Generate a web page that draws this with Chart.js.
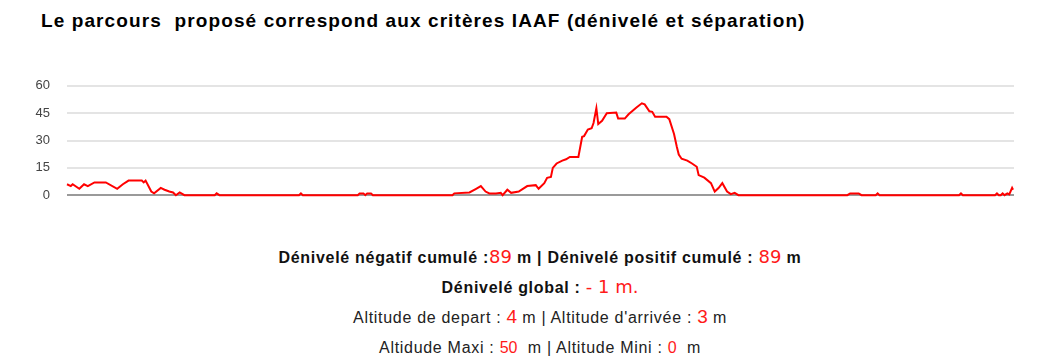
<!DOCTYPE html>
<html lang="fr">
<head>
<meta charset="utf-8">
<title>Profil altimétrique</title>
<script src="https://cdn.jsdelivr.net/npm/chart.js@4"></script>
<style>
  body { margin: 0; background: #fff; font-family: "Liberation Sans", Arial, sans-serif; color: #111; }
  #title { position: absolute; left: 41px; top: 10px; font-size: 19px; letter-spacing: 1.1px; font-weight: bold; white-space: pre; color: #000; }
  #profile { position: absolute; left: 0; top: 61px; }
  #stats { position: absolute; left: 40px; top: 243px; width: 1000px; text-align: center; font-size: 16px; letter-spacing: 0.7px; line-height: 30px; color: #222; }
  #stats b { color: #111; }
  #stats span { line-height: 1; letter-spacing: 0; }
  .big { color: #ff1a1a; font-family: "DejaVu Sans", sans-serif; font-size: 18px; font-weight: normal; }
  .num { color: #ff1a1a; font-size: 19px; }
  .small { color: #ff1a1a; font-size: 16px; }
</style>
</head>
<body>
<div id="title">Le parcours  proposé correspond aux critères IAAF (dénivelé et séparation)</div>
<canvas id="profile" width="1041" height="159"></canvas>
<div id="stats">
  <div><b>Dénivelé négatif cumulé :</b><span class="big">89</span><b> m | Dénivelé positif cumulé : </b><span class="big">89</span><b> m</b></div>
  <div><b>Dénivelé global : </b><span class="big">- 1 m.</span></div>
  <div>Altitude de depart : <span class="num">4</span> m | Altitude d'arrivée : <span class="num">3</span> m</div>
  <div>Altidude Maxi : <span class="small">50</span>&nbsp; m | Altitude Mini : <span class="small">0</span>&nbsp; m</div>
</div>
<script>
// profile along the course (km) and altitude (m)
const distanceKm = [
  0.00, 0.04, 0.06, 0.13, 0.18, 0.22, 0.29, 0.41, 0.53, 0.59, 0.65, 0.79, 0.81, 0.83, 0.89, 0.92,
  0.99, 1.03, 1.08, 1.12, 1.15, 1.19, 1.24, 1.56, 1.58, 1.61, 2.45, 2.47, 2.49,
  3.07, 3.09, 3.13, 3.15, 3.17, 3.21, 3.23, 4.07, 4.09, 4.25, 4.32, 4.37, 4.42, 4.46, 4.53,
  4.58, 4.60, 4.65, 4.69, 4.77, 4.86, 4.95, 4.98, 5.04, 5.07, 5.11, 5.13, 5.17, 5.23, 5.27,
  5.31, 5.40, 5.44, 5.46, 5.50, 5.54, 5.56, 5.59, 5.61, 5.65, 5.70, 5.80, 5.82, 5.89, 5.93,
  6.01, 6.07, 6.10, 6.15, 6.18, 6.21, 6.33, 6.36, 6.41, 6.44, 6.46, 6.49, 6.55, 6.60, 6.65,
  6.67, 6.73, 6.80, 6.84, 6.88, 6.92, 6.97, 7.01, 7.05, 7.09, 8.24, 8.27, 8.36, 8.39,
  8.54, 8.56, 8.58, 9.42, 9.44, 9.46, 9.80, 9.82, 9.84, 9.86, 9.88, 9.90, 9.93, 9.95, 9.98, 9.99
];
const altitudeM = [
  6, 5, 6, 3.5, 6, 5, 7, 7, 3.5, 6, 8, 8, 7, 8, 2, 1,
  4, 3, 2, 1.5, 0, 1.5, 0, 0, 1, 0, 0, 1, 0,
  0, 1, 1, 0, 1, 1, 0, 0, 1, 1.5, 3.5, 5, 2, 1, 1,
  1.3, 0, 3, 1.3, 2, 5, 5.5, 3.5, 6.6, 9.5, 10, 15, 17.4, 19, 19.7,
  21, 21, 32, 32.4, 36, 36.7, 39.6, 47.7, 39, 40.8, 45, 45.3, 42, 42, 44.4,
  48, 50.4, 49.8, 46, 45.7, 43, 43, 41.7, 33.6, 26.4, 22.3, 20, 19, 17.4, 15.6,
  11, 9.6, 6.6, 2, 3.9, 6.6, 2, 0.6, 1.3, 0, 0, 1, 1, 0,
  0, 1, 0, 0, 1, 0, 0, 1, 0, 0, 1, 0, 1, 0.5, 4, 3
];
const yTicks = [0, 15, 30, 45, 60];

const points = distanceKm.map((d, i) => ({ x: d, y: altitudeM[i] }));

new Chart(document.getElementById("profile"), {
  type: "line",
  data: {
    datasets: [{
      data:        points,
      borderColor: "#ff0000",
      borderWidth: 2,
      pointRadius: 0,
      tension:     0,
      fill:        false,
      clip:        false,
    }],
  },
  options: {
    responsive: false,
    animation:  false,
    layout: { padding: { top: 14.5, right: 27, bottom: 24, left: 0 } },
    plugins: { legend: { display: false }, tooltip: { enabled: false } },
    scales: {
      x: { type: "linear", min: 0, max: 10, display: false },
      y: {
        min: yTicks[0],
        max: yTicks[yTicks.length - 1],
        afterBuildTicks: s => { s.ticks = yTicks.map(v => ({ value: v })); },
        afterFit: s => { s.width = 67; },
        border: { display: false },
        grid: {
          drawTicks: false,
          lineWidth: 2,
          color: ctx => ctx.tick && ctx.tick.value === 0 ? "#9a9a9a" : "#e4e4e4",
        },
        ticks: {
          padding: 17,
          color:   "#444",
          font:    { family: "'Liberation Sans', Arial, sans-serif", size: 13 },
        },
      },
    },
  },
});
</script>
</body>
</html>
